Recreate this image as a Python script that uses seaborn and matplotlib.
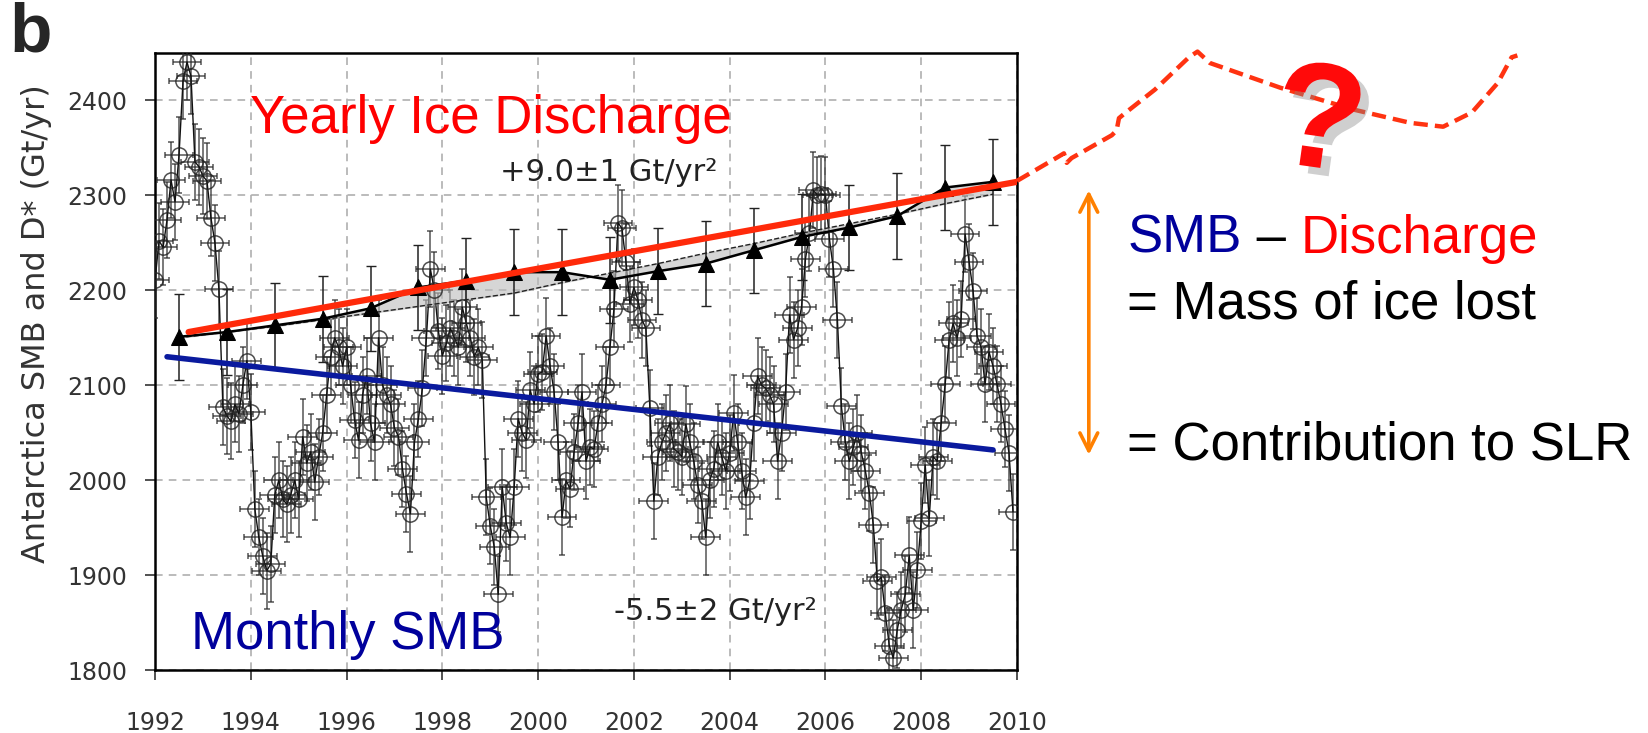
import numpy as np
import pandas as pd
import seaborn as sns
import matplotlib.pyplot as plt
import matplotlib.patheffects as pe

# monthly surface mass balance, Gt/yr, Jan 1992 .. Dec 2009
smb_1992 = [2211, 2252, 2245, 2274, 2316, 2293, 2342, 2420, 2440, 2425, 2335, 2330]
smb_1993 = [2320, 2315, 2276, 2250, 2201, 2077, 2068, 2062, 2080, 2070, 2100, 2126]
smb_1994 = [2072, 1970, 1940, 1920, 1905, 1912, 1985, 2000, 1980, 1975, 1985, 2000]
smb_1995 = [1980, 2046, 2018, 2030, 1998, 2025, 2050, 2090, 2130, 2150, 2140, 2120]
smb_1996 = [2140, 2100, 2063, 2042, 2090, 2110, 2060, 2040, 2150, 2100, 2090, 2080]
smb_1997 = [2055, 2046, 2012, 1986, 1965, 2040, 2065, 2097, 2150, 2222, 2200, 2157]
smb_1998 = [2131, 2144, 2160, 2150, 2140, 2182, 2165, 2150, 2130, 2140, 2127, 1982]
smb_1999 = [1952, 1930, 1880, 1993, 1955, 1940, 1993, 2065, 2050, 2042, 2095, 2080]
smb_2000 = [2112, 2114, 2152, 2120, 2093, 2040, 1961, 2000, 1991, 2030, 2060, 2093]
smb_2001 = [2020, 2035, 2033, 2060, 2080, 2100, 2140, 2180, 2271, 2265, 2230, 2186]
smb_2002 = [2203, 2190, 2169, 2160, 2076, 1978, 2025, 2040, 2050, 2060, 2033, 2030]
smb_2003 = [2025, 2059, 2040, 2020, 1995, 1978, 1940, 2000, 2012, 2040, 2025, 2010]
smb_2004 = [2029, 2071, 2040, 2010, 1982, 1999, 2060, 2110, 2100, 2097, 2090, 2080]
smb_2005 = [2020, 2050, 2093, 2174, 2148, 2160, 2182, 2233, 2260, 2305, 2300, 2301]
smb_2006 = [2300, 2254, 2222, 2169, 2078, 2040, 2020, 2035, 2050, 2029, 2010, 1987]
smb_2007 = [1953, 1894, 1898, 1860, 1826, 1813, 1843, 1864, 1880, 1921, 1864, 1906]
smb_2008 = [1957, 2016, 1960, 2025, 2020, 2060, 2101, 2148, 2165, 2150, 2170, 2259]
smb_2009 = [2230, 2199, 2152, 2140, 2101, 2135, 2120, 2101, 2080, 2054, 2029, 1967]

smb_values = (smb_1992 + smb_1993 + smb_1994 + smb_1995 + smb_1996 + smb_1997
              + smb_1998 + smb_1999 + smb_2000 + smb_2001 + smb_2002 + smb_2003
              + smb_2004 + smb_2005 + smb_2006 + smb_2007 + smb_2008 + smb_2009)
smb_months = 1992 + np.arange(len(smb_values)) / 12
smb_yerr = 40
smb_xerr = 0.3

# yearly ice discharge D*
discharge_years = [1992.5, 1993.5, 1994.5, 1995.5, 1996.5, 1997.5, 1998.5, 1999.5, 2000.5,
                   2001.5, 2002.5, 2003.5, 2004.5, 2005.5, 2006.5, 2007.5, 2008.5, 2009.5]
discharge = [2151, 2156, 2163, 2170, 2181, 2203, 2210, 2219, 2219,
             2211, 2220, 2228, 2242, 2256, 2266, 2278, 2308, 2314]
discharge_alt = [2150, 2156, 2162, 2169, 2176, 2183, 2190, 2197, 2208,
                 2218, 2228, 2239, 2249, 2260, 2270, 2280, 2291, 2301]
discharge_err = 45

# linear trends
trend_d_years = [1992.7, 2010.0]
trend_d = [2156, 2314]
trend_smb_years = [1992.25, 2009.5]
trend_smb = [2130, 2032]

# sketched future discharge (beyond the axes)
proj_years = [2010.0, 2010.85, 2010.98, 2011.04, 2011.14, 2011.98, 2012.08, 2012.13, 2012.25,
              2012.88, 2013.59, 2013.77, 2014.03, 2015.5, 2017.03, 2018.22, 2018.9, 2019.5,
              2020.04, 2020.33, 2020.45]
proj_values = [2315, 2340, 2344, 2334, 2339, 2363, 2368, 2381, 2386,
               2411, 2445, 2451, 2439, 2413, 2390, 2376, 2372, 2387,
               2418, 2445, 2447]
gap_year = 2011.5
gap_top, gap_bottom = 2308, 2024

sns.set_theme(style="ticks")
plt.rcParams['font.family'] = ['DejaVu Sans']
arial = ['Liberation Sans', 'DejaVu Sans']

RED = '#ff0000'
BLUE = '#00009c'

fig = plt.figure(figsize=(16.48, 7.33), dpi=100)
ax = fig.add_axes([0.0941, 0.0853, 0.523, 0.843])

# monthly SMB
ax.errorbar(smb_months, smb_values, xerr=smb_xerr, yerr=smb_yerr, fmt='o', ms=11,
            mfc='none', mec='#222222', mew=1.1, ecolor='#2a2a2a', elinewidth=1.1,
            capsize=2.5, alpha=0.8, zorder=3)
sns.lineplot(x=smb_months, y=smb_values, color='#111111', lw=1.0, estimator=None,
             ax=ax, zorder=3)

# yearly discharge
ax.fill_between(discharge_years, discharge, discharge_alt, color='#bbbbbb', alpha=0.6, zorder=3)
sns.lineplot(x=discharge_years, y=discharge_alt, color='#222222', lw=1.0, ls='--', ax=ax, zorder=4)
ax.errorbar(discharge_years, discharge, yerr=discharge_err, fmt='none', ecolor='#222222',
            elinewidth=1.1, capsize=3.5, zorder=4)
sns.lineplot(x=discharge_years, y=discharge, color='black', lw=1.8, marker='^', ms=11,
             mec='black', mfc='black', ax=ax, zorder=5)

# trend lines
sns.lineplot(x=trend_d_years, y=trend_d, color='#ff2a0a', lw=4.5, ax=ax, zorder=6)
sns.lineplot(x=trend_smb_years, y=trend_smb, color='#0a1a9e', lw=4.0, ax=ax, zorder=6)

# future sketch, drawn outside the axes
ax.plot(proj_years, proj_values, color='#ff3311', lw=3.2, ls=(0, (3.2, 1.6)),
        clip_on=False, zorder=6)
ax.annotate('', xy=(gap_year, gap_bottom), xytext=(gap_year, gap_top),
            arrowprops=dict(arrowstyle='<->', color='#ff8000', lw=2.6, mutation_scale=32),
            annotation_clip=False)

ax.set_xlim(1992, 2010)
ax.set_ylim(1800, 2450)
ax.set_xticks(range(1992, 2011, 2))
ax.set_yticks(range(1800, 2401, 100))
ax.grid(True, ls=(0, (5, 4)), color='#a8a8a8', lw=1.1, zorder=0)
ax.set_axisbelow(True)
for s in ax.spines.values():
    s.set_linewidth(1.8)
    s.set_color('black')
ax.tick_params(direction='out', length=7, width=1.2, labelsize=17, labelcolor='#333333',
               color='#333333')
ax.tick_params(axis='x', pad=22)
ax.tick_params(axis='y', pad=13)
ax.set_xlabel('')
ax.set_ylabel('Antarctica SMB and D* (Gt/yr)', fontsize=23, color='#333333')
ax.yaxis.set_label_coords(-0.12, 0.562)

# labels inside the plot
ax.text(0.39, 0.870, 'Yearly Ice Discharge', transform=ax.transAxes, color=RED,
        fontsize=38, family=arial, ha='center', va='baseline')
ax.text(0.526, 0.806, '+9.0±1 Gt/yr²', transform=ax.transAxes, color='#222222',
        fontsize=22, ha='center', va='center')
ax.text(0.223, 0.058, 'Monthly SMB', transform=ax.transAxes, color=BLUE,
        fontsize=38, family=arial, ha='center', va='center')
ax.text(0.65, 0.095, '-5.5±2 Gt/yr²', transform=ax.transAxes, color='#222222',
        fontsize=22, ha='center', va='center')

fig.text(0.006, 0.998, 'b', fontsize=50, fontweight='bold', family=arial, va='top')

# right-hand explanation
t1 = fig.text(0.684, 0.655, 'SMB', color=BLUE, fontsize=38, family=arial, va='baseline')
t2 = ax.annotate(' – ', xy=(1, 0), xycoords=t1, va='bottom', ha='left', color='black',
                 fontsize=38, family=arial, annotation_clip=False)
ax.annotate('Discharge', xy=(1, 0), xycoords=t2, va='bottom', ha='left', color=RED,
            fontsize=38, family=arial, annotation_clip=False)
fig.text(0.684, 0.566, '= Mass of ice lost', color='black', fontsize=38, family=arial,
         va='baseline')
fig.text(0.684, 0.373, '= Contribution to SLR', color='black', fontsize=38, family=arial,
         va='baseline')

fig.text(0.800, 0.825, '?', color='#ff0a0a', fontsize=108, fontweight='bold', family=arial,
         ha='center', va='center', rotation=-8,
         path_effects=[pe.SimplePatchShadow(offset=(6, -6), shadow_rgbFace='#888888', alpha=0.4),
                       pe.Normal()])

fig.savefig('out.png', dpi=100)
